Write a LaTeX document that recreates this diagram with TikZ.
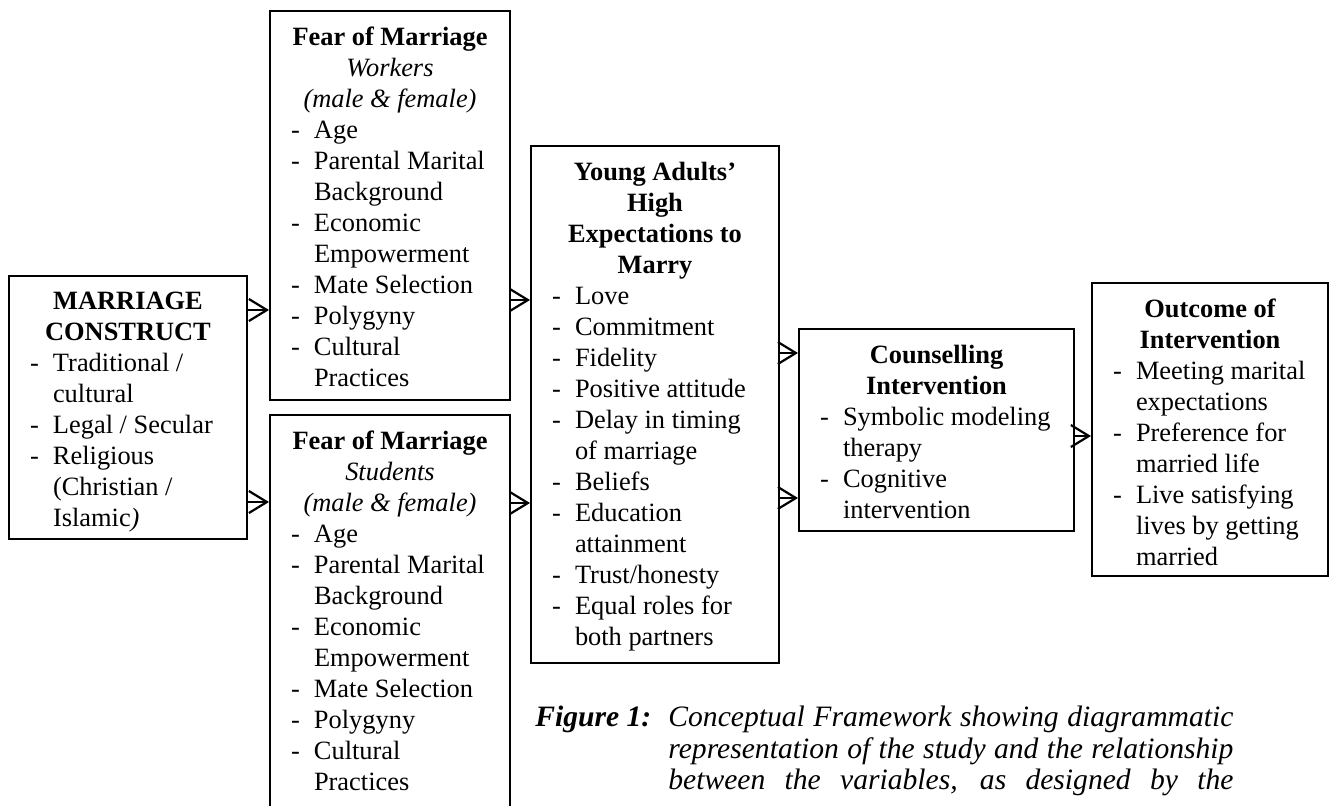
\documentclass[tikz,border=0pt]{standalone}
\usepackage{fontspec}
\setmainfont{Liberation Serif}
\usetikzlibrary{arrows.meta}

% list entry with a dash and hanging indent
\newcommand{\itm}[1]{\par{\leftskip=10.5pt\rightskip=0pt plus 1fil\parindent=0pt
  \hangindent=11.5pt\hangafter=1\makebox[11.5pt][l]{-}#1\par}}
\newcommand{\ttl}[1]{\par{\centering\bfseries #1\par}}

\tikzset{
  frame/.style 2 args={draw, line width=1pt, anchor=north west, inner xsep=0pt, inner ysep=8pt,
    font=\fontsize{13.2pt}{15.5pt}\selectfont,
    execute at begin node={\begin{minipage}[c][#2][t]{#1}},
    execute at end node={\end{minipage}}},
  link/.style={line width=1.1pt, -{Straight Barb[length=9pt,width=11pt]}},
}

\begin{document}
\begin{tikzpicture}[x=0.5pt,y=-0.5pt]
  \useasboundingbox (0,0) rectangle (1337,805);
  % boxes
  \node[frame={119pt}{115.5pt}] (mc) at (8,275)
    {\ttl{MARRIAGE\\CONSTRUCT}
     \itm{Traditional /\\cultural}
     \itm{Legal / Secular}
     \itm{Religious\\(Christian /\\Islamic{\itshape)}}};
  \node[frame={120pt}{178.5pt}] (fw) at (269,10)
    {{\centering\textbf{Fear of Marriage}\\\textit{Workers}\\\textit{(male \& female)}\par}
     \itm{Age}
     \itm{Parental Marital\\Background}
     \itm{Economic\\Empowerment}
     \itm{Mate Selection}
     \itm{Polygyny}
     \itm{Cultural\\Practices}};
  \node[frame={120pt}{194pt}] (fs) at (269,414)
    {{\centering\textbf{Fear of Marriage}\\\textit{Students}\\\textit{(male \& female)}\par}
     \itm{Age}
     \itm{Parental Marital\\Background}
     \itm{Economic\\Empowerment}
     \itm{Mate Selection}
     \itm{Polygyny}
     \itm{Cultural\\Practices}};
  \node[frame={124pt}{242.5pt}] (ya) at (530,145)
    {\ttl{Young Adults’\\High\\Expectations to\\Marry}
     \itm{Love}
     \itm{Commitment}
     \itm{Fidelity}
     \itm{Positive attitude}
     \itm{Delay in timing\\of marriage}
     \itm{Beliefs}
     \itm{Education\\attainment}
     \itm{Trust/honesty}
     \itm{Equal roles for\\both partners}};
  \node[frame={137.5pt}{85pt}] (ci) at (798,328)
    {\ttl{Counselling\\Intervention}
     \itm{Symbolic modeling\\therapy}
     \itm{Cognitive\\intervention}};
  \node[frame={118pt}{130.5pt}] (oi) at (1091,282)
    {\ttl{Outcome of\\Intervention}
     \itm{Meeting marital\\expectations}
     \itm{Preference for\\married life}
     \itm{Live satisfying\\lives by getting\\married}};
  % arrow levels
  \coordinate (l1) at (0,310);
  \coordinate (l2) at (0,502);
  \coordinate (l3) at (0,300);
  \coordinate (l4) at (0,503);
  \coordinate (l5) at (0,353);
  \coordinate (l6) at (0,498);
  \coordinate (l7) at (0,436);
  \draw[link] (mc.east |- l1) -- (fw.west |- l1);
  \draw[link] (mc.east |- l2) -- (fs.west |- l2);
  \draw[link] (fw.east |- l3) -- (ya.west |- l3);
  \draw[link] (fs.east |- l4) -- (ya.west |- l4);
  \draw[link] (ya.east |- l5) -- (ci.west |- l5);
  \draw[link] (ya.east |- l6) -- (ci.west |- l6);
  \draw[link] (ci.east |- l7) -- (oi.west |- l7);
  % caption
  \node[anchor=north west, inner sep=0pt, text width=349pt, align=justify,
    font=\fontsize{14.8pt}{15.6pt}\selectfont\itshape] (cap) at (535,706)
    {\parfillskip=0pt\hangindent=66.5pt\hangafter=1\noindent\makebox[66.5pt][l]{\bfseries Figure 1:}Conceptual Framework showing diagrammatic\linebreak
     representation of the study and the relationship\linebreak
     between the variables, as designed by the\par};
\end{tikzpicture}
\end{document}
